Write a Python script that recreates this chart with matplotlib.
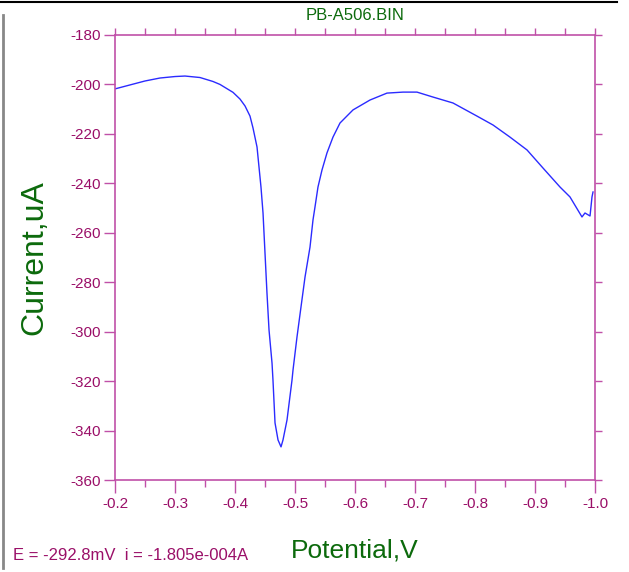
import matplotlib
matplotlib.use('Agg')
import matplotlib.pyplot as plt
from matplotlib.lines import Line2D
from matplotlib.ticker import MultipleLocator

# potential (V) and current (uA) of the scan
potential = [-0.2, -0.225, -0.25, -0.275, -0.30, -0.3167, -0.3417, -0.3633, -0.375,
             -0.3967, -0.4083, -0.4167, -0.425, -0.43, -0.4367, -0.44, -0.4433,
             -0.4467, -0.45, -0.4533, -0.4567, -0.4617, -0.4633, -0.4667, -0.4717,
             -0.4767, -0.48, -0.4867, -0.495, -0.4967, -0.5033, -0.51, -0.5167,
             -0.525, -0.53, -0.5333, -0.5383, -0.545, -0.5533, -0.5633, -0.575,
             -0.5967, -0.625, -0.6533, -0.68, -0.7033, -0.73, -0.7633, -0.8033,
             -0.83, -0.8583, -0.8867, -0.9133, -0.9417, -0.9583, -0.9783, -0.9833,
             -0.9917, -0.995, -0.9967]
current = [-201.8, -200.2, -198.6, -197.4, -196.8, -196.6, -197.2, -198.8, -200.0,
           -203.2, -205.9, -208.7, -212.8, -217.6, -225.3, -233.4, -241.5,
           -252.0, -268.2, -284.4, -299.3, -312.7, -319.6, -336.9, -343.8,
           -346.6, -343.8, -335.7, -319.6, -315.5, -302.2, -290.0, -277.9,
           -265.8, -254.8, -249.6, -241.5, -234.6, -227.7, -221.3, -215.6,
           -210.3, -206.3, -203.5, -203.1, -203.1, -205.1, -207.5, -212.8,
           -216.4, -221.3, -226.5, -233.8, -241.5, -245.5, -253.6, -252.0,
           -253.2, -245.5, -243.5]

x_ticks = [-0.2, -0.3, -0.4, -0.5, -0.6, -0.7, -0.8, -0.9, -1.0]
y_ticks = [-180, -200, -220, -240, -260, -280, -300, -320, -340, -360]

file_name = 'PB-A506.BIN'
status_text = 'E = -292.8mV  i = -1.805e-004A'

axis_color = '#c050a8'
label_color = '#9a0f68'
green = '#0c6a0c'

plt.rcParams['font.family'] = ['Liberation Sans', 'DejaVu Sans']

fig = plt.figure(figsize=(6.29, 5.72), dpi=100)
ax = fig.add_axes([115 / 629, 1 - 480 / 572, 480 / 629, 445 / 572])

ax.plot(potential, current, color='#2b2bff', lw=1.0)

ax.set_xlim(-0.2, -1.0)
ax.set_ylim(-360, -180)
ax.set_xticks(x_ticks)
ax.set_xticklabels(['%.1f' % v for v in x_ticks])
ax.set_yticks(y_ticks)
ax.set_yticklabels(['%d' % v for v in y_ticks])
ax.xaxis.set_minor_locator(MultipleLocator(0.05))

for side in ['left', 'right', 'top', 'bottom']:
    ax.spines[side].set_color(axis_color)
    ax.spines[side].set_linewidth(1.2)

ax.tick_params(axis='x', which='major', direction='out', length=9, width=1,
               color=axis_color, labelcolor=label_color, labelsize=11, pad=3)
ax.tick_params(axis='x', which='minor', direction='out', length=5, width=1,
               color=axis_color)
ax.tick_params(axis='y', which='major', direction='out', length=8, width=1,
               color=axis_color, labelcolor=label_color, labelsize=11, pad=2)

# short outside ticks on top and right
top = ax.secondary_xaxis('top')
top.set_xticks([-0.2 - 0.05 * i for i in range(17)])
top.tick_params(direction='out', length=5, width=1, color=axis_color,
                labeltop=False)
top.spines['top'].set_visible(False)
right = ax.secondary_yaxis('right')
right.set_yticks(y_ticks)
right.tick_params(direction='out', length=5, width=1, color=axis_color,
                  labelright=False)
right.spines['right'].set_visible(False)

ax.set_title(file_name, color=green, fontsize=12, pad=11)
ax.set_xlabel('Potential,V', color=green, fontsize=19, labelpad=20)
ax.set_ylabel('Current,uA', color=green, fontsize=23, labelpad=15)

fig.text(13 / 629, 1 - 555 / 572, status_text, color=label_color,
         fontsize=12, va='center', ha='left')

# window border lines
fig.add_artist(Line2D([0, 617 / 629], [1 - 2 / 572, 1 - 2 / 572],
                      color='black', lw=1.5, transform=fig.transFigure))
fig.add_artist(Line2D([3 / 629, 3 / 629], [1 - 15 / 572, 1 - 568 / 572],
                      color='#888888', lw=2, transform=fig.transFigure))

fig.savefig('out.png', dpi=100)
